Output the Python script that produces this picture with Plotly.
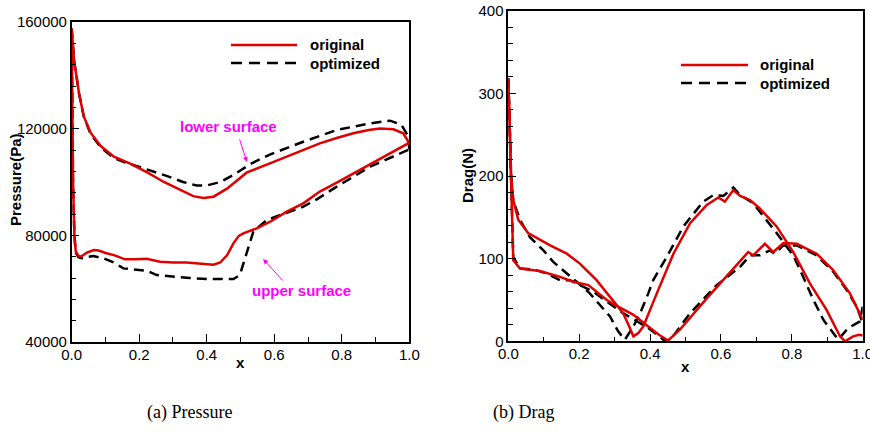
import plotly.graph_objects as go

# ---------------- Pressure panel data ----------------
p_lower_orig_x = [0.0, 0.003, 0.007, 0.015, 0.022, 0.036, 0.056, 0.086, 0.125, 0.175, 0.225, 0.273, 0.32, 0.36, 0.39,
                  0.42, 0.46, 0.518, 0.587, 0.637, 0.686, 0.735, 0.785, 0.834, 0.88, 0.913, 0.953, 0.982, 1.0]
p_lower_orig_y = [157500, 152000, 145500, 139000, 133000, 124500, 118500, 113500, 109500, 106800, 103500, 100000, 97000,
                  94700, 94000, 94500, 97500, 103500, 107000, 109500, 112000, 114500, 116500, 118250, 119500, 120100,
                  119750, 118250, 114500]

p_lower_opt_x = [0.0, 0.003, 0.007, 0.015, 0.022, 0.036, 0.056, 0.086, 0.125, 0.155, 0.183, 0.23, 0.281, 0.33, 0.37, 0.4,
                 0.44, 0.479, 0.53, 0.587, 0.686, 0.785, 0.884, 0.943, 0.977, 0.997, 1.0]
p_lower_opt_y = [157500, 152000, 145500, 139000, 133000, 124500, 118000, 113000, 109000, 107500, 106400, 104500, 102300,
                 100000, 98700, 98700, 100000, 102600, 106800, 110300, 115100, 119500, 122000, 123000, 121400, 117000,
                 112250]

p_upper_orig_x = [0.0, 0.001, 0.002, 0.004, 0.008, 0.012, 0.02, 0.027, 0.045, 0.066, 0.08, 0.1, 0.125, 0.158, 0.19,
                  0.222, 0.262, 0.301, 0.34, 0.38, 0.42, 0.44, 0.46, 0.479, 0.495, 0.51, 0.548, 0.588, 0.637, 0.686,
                  0.735, 0.785, 0.834, 0.884, 0.933, 0.997, 1.0]
p_upper_orig_y = [157500, 145000, 125000, 100000, 80000, 74000, 72300, 72000, 73500, 74500, 74300, 73400, 72600, 71000,
                  71000, 71200, 70100, 69800, 69800, 69300, 69000, 69800, 72500, 77000, 79800, 80800, 82600, 85100,
                  88900, 92000, 96400, 99800, 103250, 106700, 110100, 114500, 114500]

p_upper_opt_x = [0.0, 0.001, 0.002, 0.004, 0.008, 0.012, 0.02, 0.03, 0.05, 0.064, 0.094, 0.125, 0.153, 0.19, 0.222,
                 0.252, 0.301, 0.35, 0.4, 0.45, 0.479, 0.498, 0.51, 0.523, 0.538, 0.578, 0.62, 0.657, 0.686, 0.726,
                 0.785, 0.884, 0.997, 1.0]
p_upper_opt_y = [157500, 145000, 125000, 100000, 80000, 73500, 71800, 71400, 72000, 72250, 71400, 69800, 67600, 67000,
                 66750, 65100, 64500, 64000, 63600, 63600, 63600, 65100, 70000, 75750, 81400, 85750, 87700, 89500,
                 90750, 93500, 98250, 105750, 112250, 112250]

# ---------------- Drag panel data ----------------
d_orig_a_x = [0.0, 0.004, 0.008, 0.014, 0.033, 0.089, 0.146, 0.183, 0.226, 0.249, 0.278, 0.301, 0.353, 0.395, 0.425,
              0.451, 0.484, 0.56, 0.607, 0.654, 0.677, 0.691, 0.705, 0.724, 0.748, 0.776, 0.814, 0.87, 0.917, 0.964, 1.0]
d_orig_a_y = [318, 250, 170, 98, 88, 85, 78, 72, 68, 60, 50, 44, 32, 18, 8, 1, 14, 52, 74, 96, 108, 104, 110, 118, 108,
              119, 118, 106, 86, 58, 26]

d_orig_b_x = [0.0, 0.004, 0.008, 0.014, 0.028, 0.056, 0.08, 0.118, 0.165, 0.202, 0.249, 0.278, 0.301, 0.324, 0.339,
              0.353, 0.367, 0.381, 0.419, 0.466, 0.513, 0.56, 0.593, 0.611, 0.635, 0.654, 0.682, 0.709, 0.757, 0.804,
              0.851, 0.898, 0.936, 0.95, 0.973, 0.99, 1.0]
d_orig_b_y = [318, 260, 200, 171, 147, 131, 125, 116, 106, 94, 74, 58, 46, 34, 20, 6, 10, 18, 58, 106, 143, 165, 174,
              169, 183, 176, 171, 161, 139, 108, 70, 38, 6, 0, 6, 8, 7]

d_opt_a_x = [0.0, 0.004, 0.008, 0.014, 0.033, 0.071, 0.108, 0.146, 0.174, 0.202, 0.24, 0.278, 0.324, 0.372, 0.395, 0.42,
             0.44, 0.456, 0.513, 0.588, 0.654, 0.682, 0.71, 0.738, 0.752, 0.776, 0.814, 0.87, 0.917, 0.955, 0.983, 1.0]
d_opt_a_y = [318, 250, 170, 102, 88, 87, 82, 74, 74, 68, 60, 48, 34, 22, 16, 8, 1, 1, 34, 68, 90, 104, 104, 110, 106,
             116, 116, 104, 84, 62, 42, 22]

d_opt_b_x = [0.0, 0.004, 0.008, 0.014, 0.033, 0.061, 0.099, 0.127, 0.155, 0.193, 0.23, 0.259, 0.287, 0.31, 0.329, 0.353,
             0.372, 0.395, 0.409, 0.447, 0.494, 0.55, 0.579, 0.607, 0.635, 0.654, 0.691, 0.757, 0.804, 0.832, 0.861,
             0.889, 0.912, 0.931, 0.959, 0.992, 1.0]
d_opt_b_y = [318, 250, 200, 170, 147, 126, 110, 96, 86, 72, 58, 44, 30, 12, 2, 18, 34, 58, 74, 102, 139, 169, 177, 176,
             186, 177, 167, 131, 104, 78, 50, 26, 12, 2, 16, 24, 42]

series_names = ["original", "optimized"]
x_ticks = [0.0, 0.2, 0.4, 0.6, 0.8, 1.0]
p_ticks = [40000, 80000, 120000, 160000]
d_ticks = [0, 100, 200, 300, 400]

RED = "#E00000"
BLACK = "#000000"
MAG = "#FF00FF"
W, H = 870, 438
SANS = "Liberation Sans, Arial, sans-serif"

red_line = dict(color=RED, width=2.5)
blk_line = dict(color=BLACK, width=2.5, dash="10px,6px")

fig = go.Figure()
# pressure: dashed first, red on top
fig.add_trace(go.Scatter(x=p_lower_opt_x, y=p_lower_opt_y, mode="lines", line=blk_line, name=series_names[1], xaxis="x", yaxis="y"))
fig.add_trace(go.Scatter(x=p_upper_opt_x, y=p_upper_opt_y, mode="lines", line=blk_line, name=series_names[1], xaxis="x", yaxis="y"))
fig.add_trace(go.Scatter(x=p_lower_orig_x, y=p_lower_orig_y, mode="lines", line=red_line, name=series_names[0], xaxis="x", yaxis="y"))
fig.add_trace(go.Scatter(x=p_upper_orig_x, y=p_upper_orig_y, mode="lines", line=red_line, name=series_names[0], xaxis="x", yaxis="y"))
# drag
fig.add_trace(go.Scatter(x=d_opt_a_x, y=d_opt_a_y, mode="lines", line=blk_line, name=series_names[1], xaxis="x2", yaxis="y2"))
fig.add_trace(go.Scatter(x=d_opt_b_x, y=d_opt_b_y, mode="lines", line=blk_line, name=series_names[1], xaxis="x2", yaxis="y2"))
fig.add_trace(go.Scatter(x=d_orig_a_x, y=d_orig_a_y, mode="lines", line=red_line, name=series_names[0], xaxis="x2", yaxis="y2"))
fig.add_trace(go.Scatter(x=d_orig_b_x, y=d_orig_b_y, mode="lines", line=red_line, name=series_names[0], xaxis="x2", yaxis="y2"))


def px_x(p):
    return p / W


def px_y(p):
    return 1 - p / H


common_axis = dict(
    showline=True, linewidth=1.5, linecolor=BLACK, mirror=True, showgrid=False, zeroline=False,
    ticks="inside", ticklen=8, tickwidth=1, tickcolor=BLACK, ticklabeloverflow="allow",
    tickfont=dict(family=SANS, size=15, color=BLACK), automargin=False,
)
minor_common = dict(ticks="inside", ticklen=5, tickwidth=1, tickcolor=BLACK, showgrid=False)

fig.update_layout(
    width=W, height=H, margin=dict(l=0, r=0, t=0, b=0),
    paper_bgcolor="white", plot_bgcolor="white", showlegend=False,
    xaxis=dict(domain=[px_x(71.7), px_x(409.3)], range=[0, 1], tickvals=x_ticks, tickformat=".1f",
               ticklabelstandoff=-2, minor=dict(dtick=0.1, **minor_common), anchor="y", **common_axis),
    yaxis=dict(domain=[px_y(342), px_y(22)], range=[40000, 160000], tickvals=p_ticks, tickformat="d",
               minor=dict(dtick=8000, **minor_common), anchor="x", **common_axis),
    xaxis2=dict(domain=[px_x(508.3), px_x(862.7)], range=[0, 1], tickvals=x_ticks, tickformat=".1f",
                ticklabelstandoff=-2, minor=dict(dtick=0.1, **minor_common), anchor="y2", **common_axis),
    yaxis2=dict(domain=[px_y(341.3), px_y(10.7)], range=[0, 400], tickvals=d_ticks, tickformat="d",
                minor=dict(dtick=20, **minor_common), anchor="x2", **common_axis),
)

shapes = []
annotations = []


# legends (drawn manually to match the long sample lines of the original)
def add_legend(x0, x1, ty, tx, gap):
    shapes.append(dict(type="line", xref="paper", yref="paper", x0=px_x(x0), x1=px_x(x1), y0=px_y(ty), y1=px_y(ty),
                       line=dict(color=RED, width=2.5)))
    shapes.append(dict(type="line", xref="paper", yref="paper", x0=px_x(x0), x1=px_x(x1), y0=px_y(ty + gap),
                       y1=px_y(ty + gap), line=dict(color=BLACK, width=2.5, dash="11px,7px")))
    for i, nm in enumerate(series_names):
        annotations.append(dict(text=nm, xref="paper", yref="paper", x=px_x(tx), y=px_y(ty + i * gap),
                                xanchor="left", yanchor="middle", showarrow=False,
                                font=dict(family=SANS, size=15, color=BLACK, weight="bold")))


add_legend(231, 297, 45, 308, 18)
add_legend(681, 748, 65, 758, 18)

# axis titles
title_font = dict(family=SANS, size=15, color=BLACK, weight="bold")
annotations += [
    dict(text="x", xref="paper", yref="paper", x=px_x(240.5), y=px_y(362), showarrow=False, font=title_font,
         xanchor="center", yanchor="middle"),
    dict(text="x", xref="paper", yref="paper", x=px_x(685.5), y=px_y(366), showarrow=False, font=title_font,
         xanchor="center", yanchor="middle"),
    dict(text="Pressure(Pa)", xref="paper", yref="paper", x=px_x(15), y=px_y(180), showarrow=False, font=title_font,
         textangle=-90, xanchor="center", yanchor="middle"),
    dict(text="Drag(N)", xref="paper", yref="paper", x=px_x(467), y=px_y(176), showarrow=False, font=title_font,
         textangle=-90, xanchor="center", yanchor="middle"),
]

# surface labels
mag_font = dict(family=SANS, size=15, color=MAG, weight="bold")
annotations += [
    dict(text="lower surface", xref="x", yref="y", x=0.463, y=121000, showarrow=False, font=mag_font,
         xanchor="center", yanchor="middle"),
    dict(text="", xref="x", yref="y", x=0.519, y=107500, axref="x", ayref="y", ax=0.496, ay=116500,
         showarrow=True, arrowhead=2, arrowsize=1, arrowwidth=1, arrowcolor=MAG),
    dict(text="upper surface", xref="x", yref="y", x=0.682, y=59500, showarrow=False, font=mag_font,
         xanchor="center", yanchor="middle"),
    dict(text="", xref="x", yref="y", x=0.567, y=71125, axref="x", ayref="y", ax=0.629, ay=62500,
         showarrow=True, arrowhead=2, arrowsize=1, arrowwidth=1, arrowcolor=MAG),
]

# captions
cap_font = dict(family="Liberation Serif, Times New Roman, serif", size=18, color=BLACK)
annotations += [
    dict(text="(a) Pressure", xref="paper", yref="paper", x=px_x(189), y=px_y(412), showarrow=False, font=cap_font,
         xanchor="center", yanchor="middle"),
    dict(text="(b) Drag", xref="paper", yref="paper", x=px_x(523), y=px_y(412), showarrow=False, font=cap_font,
         xanchor="center", yanchor="middle"),
]

fig.update_layout(shapes=shapes, annotations=annotations)
fig.write_html("out.html")
